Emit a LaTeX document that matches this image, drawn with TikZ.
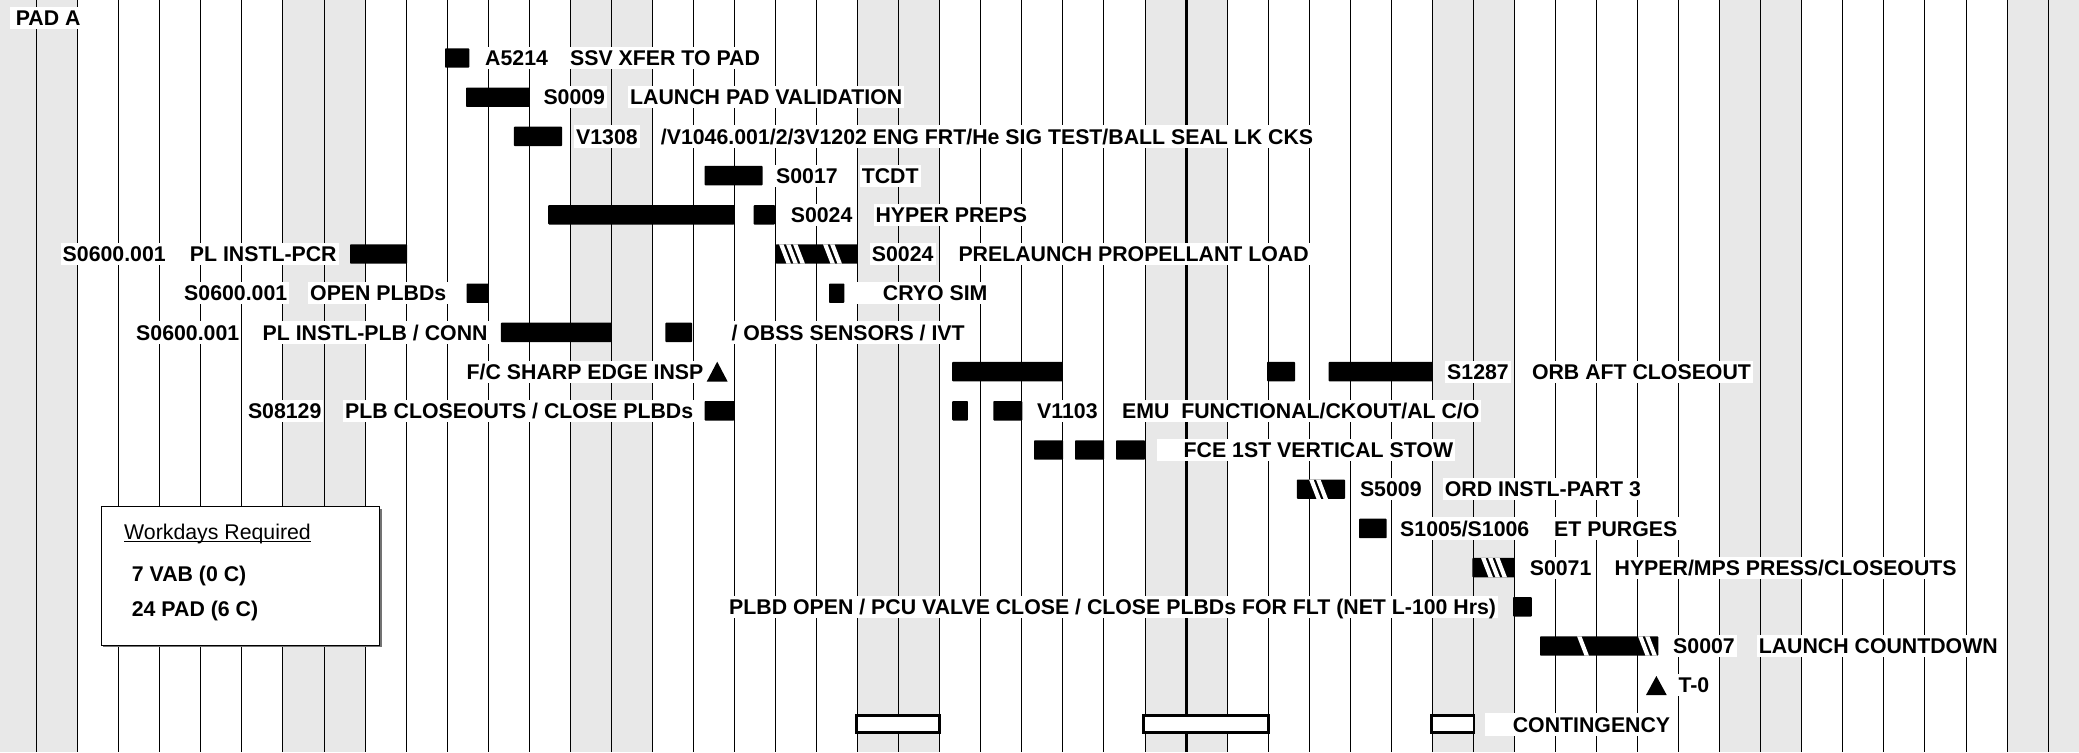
\documentclass[tikz,border=0pt]{standalone}
\usepackage{fontspec}
\setmainfont{Liberation Sans}
\newcommand{\gbar}[3]{\fill[barfill] (#1,#3-9.7) rectangle (#2,#3+9.7);}
\newcommand{\hatchbar}[4]{%
  \fill[barfill] (#1,#3-9.7) rectangle (#2,#3+9.7);
  \begin{scope}
    \clip (#1,#3-9.7) rectangle (#2,#3+9.7);
    \foreach \s in {#4}{\fill[white] (\s,#3-9.7) -- (\s+4.5,#3-9.7) -- (\s+12,#3+9.7) -- (\s+7.5,#3+9.7) -- cycle;}
  \end{scope}}
\newcommand{\contbar}[3]{\draw[contbox] (#1,#3-8.6) rectangle (#2,#3+8.6);}
\newcommand{\milestone}[4]{\fill[black] (#1,#4) -- (#2,#4) -- ({(#1+#2)/2},#3) -- cycle;}
\begin{document}
\begin{tikzpicture}[x=1pt,y=-1pt,
  lbl/.style={anchor=west, fill=white, inner xsep=2pt, inner ysep=3.5pt, text height=15.2pt, text depth=0pt, font=\fontsize{21.3pt}{24pt}\selectfont\bfseries},
  lgd/.style={anchor=west, inner xsep=0pt, inner ysep=2pt, text height=15.2pt, text depth=0pt, font=\fontsize{21.3pt}{24pt}\selectfont\bfseries},
  barfill/.style={fill=black, rounded corners=0.8pt},
  contbox/.style={draw=black, fill=white, line width=2.5pt},
  weekend/.style={fill=black!9},
  gridline/.style={draw=black, line width=0.9pt},
]
\useasboundingbox (0,0) rectangle (2079,752);
\clip (0,0) rectangle (2079,752);
\fill[white] (0,0) rectangle (2079,752);
% weekend shading
\foreach \c in {-1,0,6,7,13,14,20,21,27,28,34,35,41,42,48,49}
  \fill[weekend] ({36.6+41.05*\c},0) rectangle ({36.6+41.05*(\c+1)},752);
% grid lines
\foreach \i in {-1,...,50}
  \draw[gridline] ({36.6+41.05*\i},0) -- ({36.6+41.05*\i},752);
\draw[black, line width=3pt] ({36.6+41.05*28},0) -- ({36.6+41.05*28},752);

% title
\node[lbl, inner xsep=6pt] (pad) at (9.6,18) {PAD A};

% row 1
\gbar{445}{469.3}{58}
\node[lbl] (r1a) at (483,58) {A5214};
\node[lbl] (r1b) at (568,58) {SSV XFER TO PAD};
% row 2
\gbar{466}{529.6}{97.2}
\node[lbl] (r2a) at (541.3,97.2) {S0009};
\node[lbl] (r2b) at (628,97.2) {LAUNCH PAD VALIDATION};
% row 3
\gbar{513.8}{562}{136.4}
\node[lbl] (r3a) at (573.9,136.4) {V1308};
\node[lbl] (r3b) at (658.7,136.4) {/V1046.001/2/3V1202 ENG FRT/He SIG TEST/BALL SEAL LK CKS};
% row 4
\gbar{704.5}{762.5}{175.6}
\node[lbl] (r4a) at (773.9,175.6) {S0017};
\node[lbl] (r4b) at (859.6,175.6) {TCDT};
% row 5
\gbar{548.2}{734.4}{214.8}
\gbar{753.6}{775}{214.8}
\node[lbl] (r5a) at (788.6,214.8) {S0024};
\node[lbl] (r5b) at (873.4,214.8) {HYPER PREPS};
% row 6
\node[lbl] (r6a) at (60.5,254) {S0600.001};
\node[lbl] (r6b) at (187.7,254) {PL INSTL-PCR};
\gbar{350}{407}{254}
\hatchbar{775.7}{857.7}{254}{779,786,793,823,830}
\node[lbl] (r6c) at (869.7,254) {S0024};
\node[lbl] (r6d) at (956.3,254) {PRELAUNCH PROPELLANT LOAD};
% row 7
\node[lbl] (r7a) at (182,293.2) {S0600.001};
\node[lbl] (r7b) at (308,293.2) {OPEN PLBDs};
\gbar{466.5}{488.8}{293.2}
\gbar{829}{844.3}{293.2}
\node[lbl] (r7c) at (856.3,293.2) {\hspace*{24.4pt}CRYO SIM};
% row 8
\node[lbl] (r8a) at (134,332.4) {S0600.001};
\node[lbl] (r8b) at (260.5,332.4) {PL INSTL-PLB / CONN};
\gbar{500.9}{611.6}{332.4}
\gbar{665.4}{692}{332.4}
\node[lbl] (r8c) at (729.3,332.4) {/ OBSS SENSORS / IVT};
% row 9
\node[lbl] (r9a) at (464.5,371.6) {F/C SHARP EDGE INSP};
\milestone{706.7}{727.7}{361.7}{381.7}
\gbar{952.2}{1062.5}{371.6}
\gbar{1267}{1295}{371.6}
\gbar{1328.6}{1432.7}{371.6}
\node[lbl] (r9b) at (1445,371.6) {S1287};
\node[lbl] (r9c) at (1529.8,371.6) {ORB AFT CLOSEOUT};
% row 10
\node[lbl] (r10a) at (245.8,410.8) {S08129};
\node[lbl] (r10b) at (343,410.8) {PLB CLOSEOUTS / CLOSE PLBDs};
\gbar{704.5}{734.4}{410.8}
\gbar{952.2}{967.9}{410.8}
\gbar{993.3}{1022.3}{410.8}
\node[lbl] (r10c) at (1035,410.8) {V1103};
\node[lbl] (r10d) at (1119.9,410.8) {EMU\ \ FUNCTIONAL/CKOUT/AL C/O};
% row 11
\gbar{1034}{1063}{450}
\gbar{1075}{1104}{450}
\gbar{1116}{1145}{450}
\node[lbl] (r11a) at (1156.5,450) {\hspace*{25pt}FCE 1ST VERTICAL STOW};
% row 12
\hatchbar{1296.9}{1345}{489.2}{1309,1316}
\node[lbl] (r12a) at (1357.8,489.2) {S5009};
\node[lbl] (r12b) at (1442.7,489.2) {ORD INSTL-PART 3};
% row 13
\gbar{1359}{1386.7}{528.4}
\node[lbl] (r13a) at (1398,528.4) {S1005/S1006};
\node[lbl] (r13b) at (1552,528.4) {ET PURGES};
% row 14
\hatchbar{1472.4}{1514.8}{567.6}{1481,1488,1495}
\node[lbl] (r14a) at (1527.6,567.6) {S0071};
\node[lbl] (r14b) at (1612.4,567.6) {HYPER/MPS PRESS/CLOSEOUTS};
% row 15
\node[lbl] (r15a) at (727,606.8) {PLBD OPEN / PCU VALVE CLOSE / CLOSE PLBDs FOR FLT (NET L-100 Hrs)};
\gbar{1513}{1531.8}{606.8}
% row 16
\hatchbar{1540}{1658.3}{646}{1577,1638,1645}
\node[lbl] (r16a) at (1671,646) {S0007};
\node[lbl] (r16b) at (1756.6,646) {LAUNCH COUNTDOWN};
% row 17
\milestone{1646}{1666.7}{676}{695}
\node[lbl] (r17a) at (1676.3,685.2) {T-0};
% row 18
\contbar{856.3}{939.3}{724}
\contbar{1143.3}{1268.3}{724}
\contbar{1431.3}{1473.8}{724}
\node[lbl] (r18a) at (1485,724.4) {\hspace*{25.6pt}CONTINGENCY};

% legend
\fill[black!55] (103,508.7) rectangle (381.5,647);
\draw[fill=white, line width=1pt] (101.3,506.7) rectangle (379.5,645);
\node[lgd, font=\fontsize{21.3pt}{24pt}\selectfont] (lg1) at (124,531.7) {Workdays Required};
\draw[line width=1.4pt] (124,541.5) -- (lg1.east |- 0,541.5);
\node[lgd] (lg2) at (131.7,573.5) {7 VAB (0 C)};
\node[lgd] (lg3) at (131.7,609) {24 PAD (6 C)};
\end{tikzpicture}
\end{document}
